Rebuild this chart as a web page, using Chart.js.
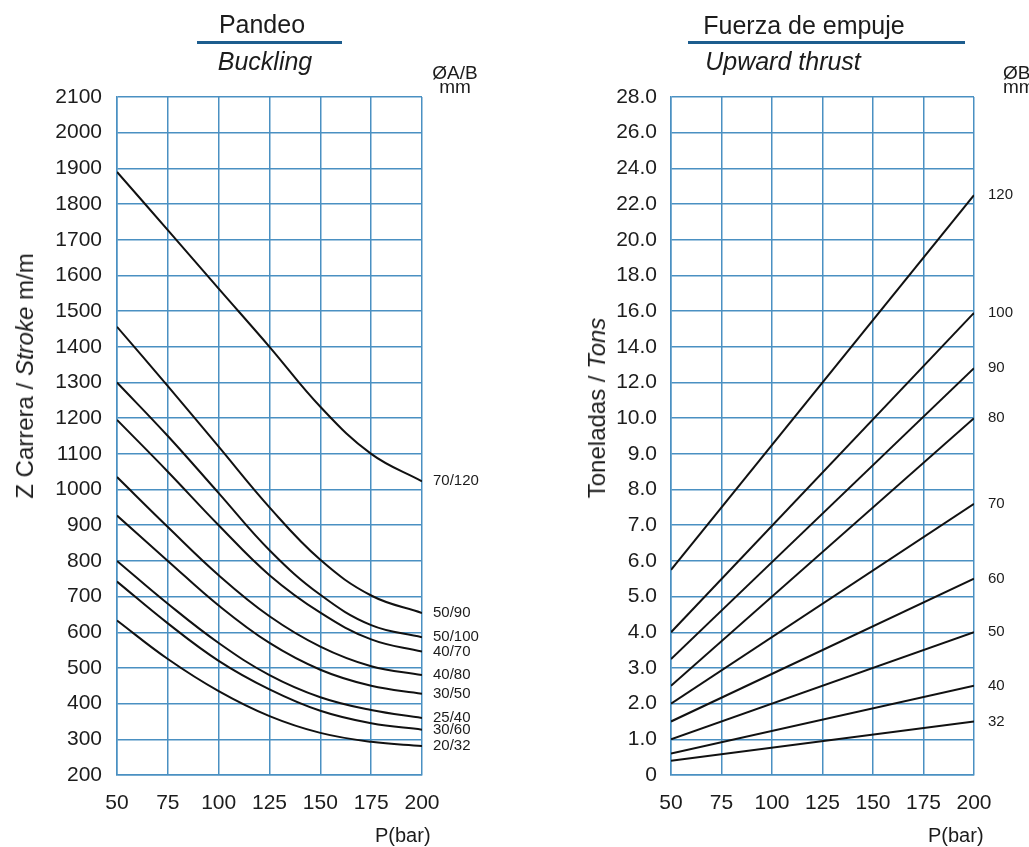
<!DOCTYPE html>
<html>
<head>
<meta charset="utf-8">
<title>Pandeo / Fuerza de empuje</title>
<script src="https://cdn.jsdelivr.net/npm/chart.js@4.4.0/dist/chart.umd.min.js"></script>
<style>
  body {
    margin: 0;
    width: 1029px;
    height: 847px;
    background: #fff;
    position: relative;
    overflow: hidden;
    font-family: 'Liberation Sans', Arial, sans-serif;
    color: #1c1c1c;
  }
  canvas { position: absolute; top: 0; }
  #bucklingChart { left: 0; }
  #thrustChart { left: 514px; }
  .t { position: absolute; white-space: nowrap; line-height: 1; }
  .head { font-size: 25px; text-align: center; width: 300px; }
  .rule { position: absolute; height: 3px; background: #1d5d8e; }
  .unit { font-size: 19px; line-height: 14px; text-align: center; }
  .axis-title { font-size: 24px; transform: translate(-50%, -50%) rotate(-90deg); }
  .pbar { font-size: 20px; }
</style>
</head>
<body>
<canvas id="bucklingChart" width="514" height="847"></canvas>
<canvas id="thrustChart" width="515" height="847"></canvas>

<div class="t head" style="left:112px; top:12px;">Pandeo</div>
<div class="rule" style="left:197px; top:41px; width:145px;"></div>
<div class="t head" style="left:115px; top:49px;"><i>Buckling</i></div>
<div class="t unit" style="left:425px; top:66px; width:60px;">ØA/B<br>mm</div>
<div class="t axis-title" style="left:25px; top:376px;">Z Carrera / <i>Stroke</i> m/m</div>
<div class="t pbar" style="left:375px; top:825px;">P(bar)</div>

<div class="t head" style="left:654px; top:13px;">Fuerza de empuje</div>
<div class="rule" style="left:688px; top:41px; width:277px;"></div>
<div class="t head" style="left:633px; top:49px;"><i>Upward thrust</i></div>
<div class="t unit" style="left:1003px; top:66px; text-align:left;">ØB<br>mm</div>
<div class="t axis-title" style="left:597px; top:408px;">Toneladas / <i>Tons</i></div>
<div class="t pbar" style="left:928px; top:825px;">P(bar)</div>

<script>
// presión (bar) en el eje X
const pressure = [50, 75, 100, 125, 150, 175, 200];

// Pandeo: carrera máxima (mm) por vástago/camisa ØA/B
const bucklingSizes = ['70/120', '50/90', '50/100', '40/70', '40/80', '30/50', '25/40', '30/60', '20/32'];
const stroke70_120 = [1890, 1727, 1563, 1400, 1232, 1100, 1023];
const stroke50_90  = [1456, 1290, 1120, 950, 803, 703, 654];
const stroke50_100 = [1300, 1150, 990, 830, 705, 620, 586];
const stroke40_70  = [1195, 1050, 900, 760, 655, 580, 546];
const stroke40_80  = [1035, 895, 760, 645, 560, 505, 480];
const stroke30_50  = [927, 800, 675, 570, 495, 450, 428];
const stroke25_40  = [800, 680, 570, 480, 418, 382, 360];
const stroke30_60  = [742, 625, 520, 440, 380, 345, 327];
const stroke20_32  = [633, 525, 435, 365, 318, 293, 281];

// Fuerza de empuje: toneladas a 50 y 200 bar por ØB
const thrustPressure = [50, 200];
const thrustSizes = ['120', '100', '90', '80', '70', '60', '50', '40', '32'];
const tons120 = [5.75, 22.5];
const tons100 = [4.0, 15.9];
const tons90  = [3.25, 12.8];
const tons80  = [2.5, 10.0];
const tons70  = [2.0, 7.6];
const tons60  = [1.5, 5.5];
const tons50  = [1.0, 4.0];
const tons40  = [0.6, 2.5];
const tons32  = [0.4, 1.5];

// etiquetas del eje Y (escala no uniforme: paso 1 hasta 10, luego paso 2)
const thrustTickLabels = ['0', '1.0', '2.0', '3.0', '4.0', '5.0', '6.0', '7.0', '8.0', '9.0', '10.0',
  '12.0', '14.0', '16.0', '18.0', '20.0', '22.0', '24.0', '26.0', '28.0'];

const gridColor = '#4a90c2';
const tickFont = { family: "'Liberation Sans', Arial, sans-serif", size: 21 };

// el eje de toneladas cambia de paso en 10.0
function toGridIndex(t) {
  return t <= 10 ? t : 10 + (t - 10) / 2;
}

function points(xs, ys, map) {
  return xs.map((x, i) => ({ x: x, y: map ? map(ys[i]) : ys[i] }));
}

// rótulo al final de cada curva
const endLabels = {
  id: 'endLabels',
  afterDatasetsDraw(chart, args, opts) {
    const ctx = chart.ctx;
    ctx.save();
    ctx.font = '15px ' + tickFont.family;
    ctx.fillStyle = '#1c1c1c';
    ctx.textBaseline = 'middle';
    chart.data.datasets.forEach((ds, i) => {
      const meta = chart.getDatasetMeta(i);
      const last = meta.data[meta.data.length - 1];
      ctx.fillText(ds.label, chart.chartArea.right + opts.offset, last.y);
    });
    ctx.restore();
  }
};

function lineDataset(label, data, tension) {
  return {
    label: label,
    data: data,
    borderColor: '#111',
    borderWidth: 2,
    pointRadius: 0,
    fill: false,
    tension: tension
  };
}

function baseOptions(yScale, yWidth, padRight, labelOffset) {
  return {
    responsive: false,
    animation: false,
    devicePixelRatio: 1,
    layout: { padding: { left: 0, top: 97, right: padRight, bottom: 0 } },
    scales: {
      x: {
        type: 'linear',
        min: 50,
        max: 200,
        ticks: { stepSize: 25, padding: 16, color: '#1c1c1c', font: tickFont, maxRotation: 0 },
        grid: { color: gridColor, lineWidth: 1.5, drawTicks: false },
        border: { color: gridColor, width: 1.5 },
        afterFit: function(scale) { scale.height = 72; }
      },
      y: Object.assign({
        grid: { color: gridColor, lineWidth: 1.5, drawTicks: false },
        border: { color: gridColor, width: 1.5 },
        afterFit: function(scale) { scale.width = yWidth; }
      }, yScale)
    },
    plugins: {
      legend: { display: false },
      tooltip: { enabled: false },
      endLabels: { offset: labelOffset }
    }
  };
}

const strokeSeries = [stroke70_120, stroke50_90, stroke50_100, stroke40_70, stroke40_80,
  stroke30_50, stroke25_40, stroke30_60, stroke20_32];

new Chart(document.getElementById('bucklingChart'), {
  type: 'line',
  data: {
    datasets: strokeSeries.map((s, i) => lineDataset(bucklingSizes[i], points(pressure, s), 0.4))
  },
  options: baseOptions({
    min: 200,
    max: 2100,
    ticks: {
      stepSize: 100,
      padding: 15,
      color: '#1c1c1c',
      font: tickFont,
      callback: function(v) { return String(v); }
    }
  }, 117, 92, 11),
  plugins: [endLabels]
});

const tonsSeries = [tons120, tons100, tons90, tons80, tons70, tons60, tons50, tons40, tons32];

new Chart(document.getElementById('thrustChart'), {
  type: 'line',
  data: {
    datasets: tonsSeries.map((s, i) => lineDataset(thrustSizes[i], points(thrustPressure, s, toGridIndex), 0))
  },
  options: baseOptions({
    min: 0,
    max: thrustTickLabels.length - 1,
    ticks: {
      stepSize: 1,
      padding: 14,
      color: '#1c1c1c',
      font: tickFont,
      callback: function(v) { return thrustTickLabels[v]; }
    }
  }, 157, 55, 14),
  plugins: [endLabels]
});
</script>
</body>
</html>
